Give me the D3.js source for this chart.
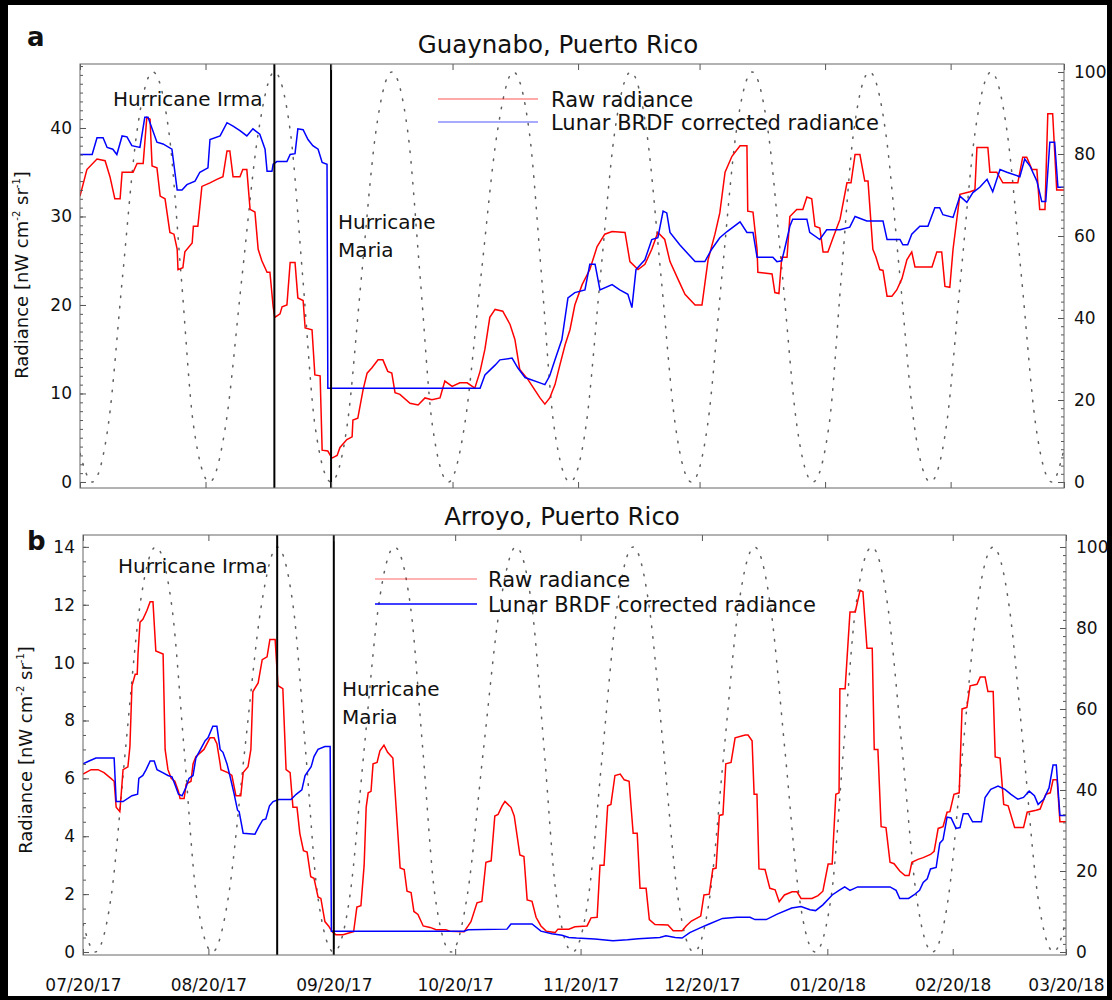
<!DOCTYPE html>
<html>
<head>
<meta charset="utf-8">
<script src="https://cdn.jsdelivr.net/npm/d3@7"></script>
<style>
body { margin: 0; background: #000; }
text { font-family: "DejaVu Sans", sans-serif; fill: #111; }
</style>
</head>
<body>
<svg id="fig" width="1112" height="1000"></svg>
<script>
// days are counted from 07/20/17
var titles = ["Guaynabo, Puerto Rico", "Arroyo, Puerto Rico"];
var seriesNames = ["Raw radiance", "Lunar BRDF corrected radiance"];
var eventNames = ["Irma", "Maria"];
var eventDays = [48, 62];
var tickDays = [0, 31, 62, 92, 123, 153, 184, 215, 243];
var tickLabels = ["07/20/17", "08/20/17", "09/20/17", "10/20/17", "11/20/17", "12/20/17", "01/20/18", "02/20/18", "03/20/18"];
var ticksLeftA = [0, 10, 20, 30, 40];
var ticksLeftB = [0, 2, 4, 6, 8, 10, 12, 14];
var ticksRight = [0, 20, 40, 60, 80, 100];

// moon illumination (%)
var moon = [[0,7],[3,0],[7,14],[10.5,50],[14,85],[18,100],[22,85],[25,50],[28,14],[32,0],[36,14],[40,50],[44,85],[48,100],
  [52,85],[55,50],[58,14],[62,0],[66,14],[69.5,50],[73,85],[77,100],[81,85],[84,50],[87,14],[91,0],[95,14],[99,50],[103,85],
  [107,100],[111,85],[114,50],[117,14],[121,0],[125,14],[128.5,50],[132,85],[136,100],[140,85],[143.5,50],[147,14],[151,0],
  [155,14],[158.5,50],[162,85],[166,100],[170,85],[173.5,50],[177,14],[181,0],[185,14],[188,50],[191,85],[195,100],[199,85],
  [202.5,50],[206,14],[210,0],[214,14],[217.5,50],[221,85],[225,100],[229,85],[232.5,50],[236,14],[240,0],[243,8]];

// Guaynabo raw radiance
var guaynaboRaw = [[0,32.3],[1.7,35.3],[4.2,36.5],[6.2,36.3],[7.4,34.5],[8.6,32],[9.9,32],[10.4,35],[13.1,35],[14.1,36],
  [15.6,36],[16.5,41.2],[17.3,41],[17.8,35.7],[19,35.5],[19.8,32.3],[21,32],[22.2,28.2],[23.2,28],[24,26.3],[24.2,24],
  [25.4,24.2],[25.9,26],[27.7,27],[28,28.9],[29.1,28.9],[30.1,33.4],[32.1,33.8],[33.8,34.2],[35.3,34.5],[36.3,37.4],[37,37.4],
  [37.8,34.5],[39.5,34.5],[40.2,35.3],[41.2,35.3],[42,30.8],[43.2,30.5],[44,26.3],[44.9,25],[46.2,23.7],[46.9,23.7],[47.7,19.8],
  [48.1,18.6],[49.4,19],[49.9,19.8],[51.1,20],[51.9,24.8],[53.1,24.8],[53.8,20.8],[55.1,20.5],[55.6,17.4],[57.3,17.2],[58,12.1],
  [59.3,12],[59.8,3.6],[61.2,3.5],[62.2,2.7],[63.5,3],[64.2,3.9],[65.9,4.8],[67.2,5.1],[67.4,7],[68.6,7.2],[69.9,10.4],
  [70.9,12.3],[72.1,12.9],[73.6,13.8],[74.8,13.8],[76,12.5],[77,12.3],[77.8,10.1],[79,9.9],[81.5,8.9],[83.5,8.7],[85.2,9.5],
  [86.9,9.3],[88.9,9.5],[90.1,11.4],[91.9,10.8],[93.8,11.2],[95.6,11.2],[97.5,10.6],[98.8,12.5],[100,15],[101.2,18.6],
  [102.5,19.5],[104.4,19.3],[106.2,17.8],[107.4,16.1],[108.6,12.7],[110.6,11.6],[112.3,10.4],[113.6,9.5],[114.8,8.8],
  [116,9.5],[117.3,11],[118.5,13.2],[119.8,15.5],[121,17.2],[122.2,20],[124,22.3],[125.9,24],[127.7,26.6],[129.6,28],
  [131.4,28.3],[134.6,28.2],[135.8,24.9],[137.8,24],[139.5,24.6],[141.2,26.3],[142.7,28.2],[144.4,27.4],[145.7,24.9],
  [147.7,22.9],[149.4,21.2],[151.9,20],[153.6,20],[155.1,25.1],[156.8,28],[158,30.4],[159.3,35],[161,36.8],[163,38],
  [164.7,38],[164.9,30.6],[166.2,30.5],[167.2,26.3],[167.4,23.7],[170.9,23.5],[171.6,21.4],[172.6,21.3],[173.3,25.4],
  [174.6,25.4],[175.3,30],[177,30.8],[178.5,30.8],[179.5,32.2],[180.7,32],[181.5,28.9],[182.7,28.7],[183.5,26],[184.7,26],
  [185.9,27.5],[187.7,29.7],[189.4,33.8],[190.4,33.8],[191.4,37],[192.6,37],[193.8,34],[194.6,34],[195.8,26.3],[196.5,25.5],
  [197.5,24],[198.3,23.9],[199.3,21],[200.5,21],[201.7,21.7],[203,23],[204.2,25.1],[205.4,26],[206.2,24.3],[210.4,24.3],
  [211.6,26],[212.8,26],[213.6,22.1],[214.8,22],[215.6,26.3],[217.3,32.5],[219.8,32.8],[221,33],[221.5,37.8],[224.2,37.8],
  [224.7,35],[226.4,35],[227.9,33.8],[231.6,33.8],[232.8,36.7],[233.8,36.7],[235.1,35.3],[236.3,35.3],[237,30.8],[238.3,30.8],
  [239,41.6],[240.2,41.6],[241.2,33],[243,33]];

// Guaynabo lunar BRDF corrected radiance
var guaynaboCorr = [[0,37],[3,37],[4.2,38.9],[5.7,38.9],[6.7,37.8],[8.1,37.6],[9.1,37],[10.4,39.1],[11.6,39],[12.8,38],
  [14.8,37.8],[16,41.2],[16.8,41.2],[19,38.4],[20.5,38.2],[22.7,37.6],[24,33],[25.2,33],[26.4,33.6],[28.4,34],[29.6,35],
  [31.6,35.5],[32.1,38.7],[34.6,39.1],[36.3,40.6],[37.8,40.2],[39.5,39.7],[41.2,39.1],[42.7,39.9],[44.4,39.3],[45.7,37.6],
  [46.2,35.1],[47.4,35.1],[47.7,35.9],[48.6,36.2],[51.1,36.2],[51.9,37],[53.1,37.1],[53.8,39.9],[55.1,39.8],[56.3,38.7],
  [57.5,38],[58.8,37.6],[59.8,36.1],[61,35.9],[61.2,10.6],[98.8,10.6],[100,12.1],[102.5,13.2],[103.7,13.8],[106.7,14],
  [108.1,12.9],[109.9,11.8],[113.6,11.2],[114.8,11],[116,12],[117.3,13.8],[119,16.1],[120.5,20.8],[122.2,21.4],[124.7,21.7],
  [125.9,24.6],[127.2,24.6],[128.4,21.7],[131.4,22.3],[133.3,21.7],[135.3,21.2],[136.3,19.7],[137.3,24],[139.5,25.1],
  [141.2,27.4],[142.7,27.6],[144,30.6],[144.9,30.4],[145.7,28.2],[148.1,26.8],[151.9,24.9],[154.3,24.9],[156,26.3],
  [158,27.6],[159.8,28.3],[163,29.4],[164.7,28.2],[166.2,28.2],[167.2,25.4],[171.1,25.4],[172.1,24.9],[173.3,25],[174,26.3],
  [175.3,28.9],[176,29.7],[179.5,29.7],[180.2,28.2],[182.7,27.4],[184.4,28.5],[187.7,28.5],[190.1,28.8],[191.4,30],
  [194.3,29.5],[198.3,29.5],[199.3,27.4],[202.5,27.4],[203.2,26.8],[204.4,26.8],[205.4,28],[207.4,28.9],[209.4,28.9],
  [211.1,31],[212.3,31],[213.1,30.2],[215.6,29.9],[217.3,32.3],[219,31.6],[220.5,32.7],[222.2,33.3],[224,34.2],[225.4,32.8],
  [227.2,35.3],[228.9,35],[232.1,34.5],[233.3,36.5],[234.6,35.7],[236.3,34],[237.5,31.7],[238.5,31.7],[239.5,38.4],
  [240.7,38.4],[241.5,33.3],[243,33.3]];

// Arroyo raw radiance
var arroyoRaw = [[0,6.15],[2,6.3],[3.7,6.3],[5.2,6.2],[6.9,6],[7.7,5.9],[8.2,5],[9.1,4.85],[9.5,5.55],[9.9,6.3],[11.1,6.4],
  [11.6,7.1],[12.1,9.2],[12.9,9.6],[13.4,9.6],[13.6,10.3],[14.1,11.4],[14.8,11.5],[15.8,11.8],[16.6,12.1],[17.3,12.1],
  [18,10.4],[19.8,10.3],[20.3,7],[21,6.3],[21.8,6],[22.7,5.9],[23.6,5.55],[24,5.3],[25,5.3],[25.5,5.8],[26.7,5.9],[27.2,6.5],
  [27.9,6.75],[29.9,7],[31.4,7.4],[32.4,7.4],[33.1,7.2],[33.9,6.5],[34.1,6.3],[35.8,6.2],[36.8,6.1],[37.8,5.4],[39,5.4],
  [39.6,6.2],[40.8,6.4],[41.5,7],[42,9],[43.3,9.3],[44.3,10.1],[45.5,10.2],[46.2,10.8],[47.5,10.8],[48.2,9.2],[49.4,9.1],
  [50.2,6.3],[51.2,6.2],[51.9,5],[52.9,5],[53.6,4.1],[54.5,3.5],[55.4,3.45],[56.3,2.6],[57.1,2.55],[58.1,1.9],[58.8,1.85],
  [59.8,1.05],[60.7,0.9],[61.6,0.7],[62.5,0.6],[64.3,0.6],[65.5,0.65],[66.9,0.7],[67.7,1.55],[68.7,1.6],[69.5,3],[70,5],
  [70.5,5.5],[71.2,5.55],[71.7,6.5],[72.7,6.55],[73.4,6.95],[74.4,7.15],[75.3,6.9],[76.6,6.7],[77.4,5],[78.4,2.9],[79.4,2.85],
  [80.1,2.1],[81.1,2.05],[81.8,1.4],[82.8,1.3],[84.1,0.9],[85.8,0.85],[87.3,0.77],[89.7,0.77],[90.7,0.72],[94.2,0.7],
  [95.2,0.9],[95.9,1.05],[97.4,1.7],[98.6,1.75],[99.6,3.1],[100.9,3.15],[101.8,4.7],[102.6,4.75],[103.6,5.05],[104.3,5.2],
  [105.8,5],[106.6,4.7],[108,3.35],[109,3.3],[109.8,1.8],[111,1.75],[112,1.2],[113.2,0.9],[114.5,0.72],[116.7,0.67],
  [117.4,0.79],[120.1,0.79],[121.6,0.87],[124.6,0.9],[125.6,1.18],[127.1,1.2],[127.8,3],[128.8,3],[129.7,5.05],[130.5,5.1],
  [131.5,6.1],[132.8,6.15],[133.8,5.95],[135,5.9],[136,4.1],[137,4.1],[137.7,2.2],[139.2,2.2],[140,1.12],[141.4,0.95],
  [144.6,0.93],[145.9,0.73],[148.1,0.73],[149.1,0.9],[150.4,1.07],[152.7,1.24],[153.5,1.97],[154.8,2],[155.7,2.87],
  [156.5,2.9],[157.3,4.72],[158.2,4.75],[158.9,6.5],[160.2,6.55],[161.2,7.4],[163.7,7.5],[164.4,7.5],[165.4,7.3],
  [165.9,5.45],[166.6,5.45],[167.1,2.87],[168.6,2.85],[169.8,2.2],[171.1,2.15],[172.1,1.74],[173.4,1.97],[175.3,2.08],
  [176.5,2.08],[177.5,1.85],[180.2,1.85],[181.7,1.95],[182.9,2.1],[184.2,3.04],[185.2,3.04],[186.1,5.45],[186.9,5.5],
  [187.1,9.1],[188.4,9.1],[189.6,11.75],[190.9,11.75],[192.1,12.5],[192.8,12.45],[193.8,10.5],[195.1,10.5],[195.6,7],
  [196.5,7],[197.3,4.33],[198.5,4.3],[199.5,3.1],[200.5,3.05],[201.9,2.8],[203.2,2.64],[204.2,2.64],[204.9,3.1],[206.4,3.2],
  [207.7,3.26],[209.5,3.37],[210.4,3.48],[211.4,4.27],[212.6,4.33],[213.6,4.83],[214.3,4.85],[215.3,5.45],[216.6,5.5],
  [217.3,8.4],[218.5,8.45],[219.3,9.2],[221,9.25],[221.8,9.5],[223,9.5],[223.7,9],[225,9],[225.5,6.74],[226.7,6.7],
  [227.6,5.1],[228.7,5.05],[230.3,4.3],[232.5,4.3],[233.4,4.83],[235.6,4.9],[236.6,4.94],[238,5.45],[239.1,5.5],
  [239.8,5.95],[240.8,5.95],[241.5,4.5],[243,4.5]];

// Arroyo lunar BRDF corrected radiance
var arroyoCorr = [[0,6.5],[1.5,6.6],[3.2,6.7],[7.7,6.7],[8.2,5.2],[9.9,5.2],[12.1,5.4],[13.5,5.45],[13.8,6],[14.8,6.1],
  [15.6,6.3],[16.6,6.6],[17.6,6.6],[18.3,6.3],[19.7,6.2],[21,6.1],[22,6.05],[22.7,5.8],[23.6,5.45],[24.5,5.4],[25.5,5.7],
  [26.2,6],[27.2,6.1],[27.9,6.7],[30.2,7.3],[30.9,7.4],[32.1,7.8],[33.1,7.8],[33.9,7],[34.6,6.9],[35.6,6.5],[36.3,6.1],
  [37.3,5.5],[38.2,4.9],[38.6,4.85],[39.6,4.1],[42.5,4.07],[43.5,4.34],[44.4,4.56],[45.2,4.6],[46.1,5.05],[47,5.2],
  [48.4,5.27],[51.4,5.27],[52.7,5.45],[54.1,5.6],[54.9,6.1],[56.4,6.4],[57.1,6.75],[58.1,7],[59.8,7.1],[61.1,7.1],
  [61.4,0.72],[94.2,0.72],[95.2,0.77],[104.8,0.79],[105.8,0.97],[111,0.97],[113.2,0.72],[115.9,0.63],[118.4,0.58],
  [120.1,0.5],[122,0.48],[126.5,0.45],[131,0.39],[134.6,0.42],[137.3,0.46],[142.6,0.5],[144.1,0.56],[146.4,0.5],
  [148.1,0.48],[150,0.67],[152.7,0.84],[154.5,0.95],[158.1,1.16],[161.7,1.2],[164.9,1.2],[166.1,1.12],[168.9,1.12],
  [171.6,1.31],[175.2,1.52],[177.5,1.57],[179.7,1.46],[181.1,1.43],[182.9,1.63],[185.2,1.97],[186.9,2.13],[188.3,2.25],
  [189.6,2.13],[191.5,2.25],[199.5,2.25],[201,2.13],[201.9,1.85],[204.1,1.85],[205.4,1.97],[206.8,2.13],[207.7,2.4],
  [208.7,2.53],[209.5,2.87],[210.9,2.92],[211.8,3.76],[212.6,3.88],[213.6,4.66],[214.6,4.63],[215.8,4.27],[216.8,4.3],
  [217.6,4.78],[218.8,4.78],[219.9,4.5],[222.1,4.5],[223,5.34],[224.4,5.62],[226.2,5.73],[227.9,5.62],[229.4,5.45],
  [231.1,5.28],[232.5,5.34],[233.9,5.56],[235.2,5.4],[236.1,5.1],[237.5,5.28],[238.8,5.67],[239.8,6.46],[240.6,6.46],
  [241.5,4.72],[243,4.72]];

var start = Date.UTC(2017, 6, 20);
function toDate(d) { return new Date(start + d * 864e5); }

var panels = [
  {letter: "a", title: titles[0], raw: guaynaboRaw, corr: guaynaboCorr, leftTicks: ticksLeftA, minorStep: 1,
   x0: 80, x1: 1064, y0: 64, y1: 488, yL: [-0.68, 47.23], yR: [-1.46, 101.95],
   letterPos: [27, 46], titlePos: [558, 53], irmaPos: [113, 106], mariaPos: [338, 229],
   legX: [438, 538, 551], legY: [99, 122], legOpacity: [0.45, 0.45], yLabel: [28, 275], xLabels: false},
  {letter: "b", title: titles[1], raw: arroyoRaw, corr: arroyoCorr, leftTicks: ticksLeftB, minorStep: 0.5,
   x0: 83, x1: 1066, y0: 535, y1: 955, yL: [-0.104, 14.41], yR: [-0.74, 102.96],
   letterPos: [27, 550], titlePos: [562, 525], irmaPos: [118, 573], mariaPos: [342, 696],
   legX: [375, 477, 488], legY: [579, 604], legOpacity: [0.4, 1], yLabel: [32, 750], xLabels: true}
];

var svg = d3.select("#fig");
svg.append("rect").attr("width", 1112).attr("height", 1000).attr("fill", "#000");
svg.append("rect").attr("x", 8).attr("y", 5).attr("width", 1099).attr("height", 991).attr("fill", "#fff");

panels.forEach(function(p, i) {
  var x = d3.scaleUtc().domain([toDate(0), toDate(243)]).range([p.x0, p.x1]);
  var yL = d3.scaleLinear().domain(p.yL).range([p.y1, p.y0]);
  var yR = d3.scaleLinear().domain(p.yR).range([p.y1, p.y0]);
  var g = svg.append("g");

  g.append("clipPath").attr("id", "clip" + i)
    .append("rect").attr("x", p.x0).attr("y", p.y0).attr("width", p.x1 - p.x0).attr("height", p.y1 - p.y0);
  var plot = g.append("g").attr("clip-path", "url(#clip" + i + ")");

  // moon illumination, dotted
  plot.append("path")
    .datum(moon)
    .attr("fill", "none").attr("stroke", "#444").attr("stroke-opacity", 0.85).attr("stroke-width", 1.5)
    .attr("stroke-dasharray", "1.5,9").attr("stroke-linecap", "round")
    .attr("d", d3.line().curve(d3.curveMonotoneX)
      .x(function(d) { return x(toDate(d[0])); })
      .y(function(d) { return yR(d[1]); }));

  var line = d3.line()
    .x(function(d) { return x(toDate(d[0])); })
    .y(function(d) { return yL(d[1]); });
  plot.append("path").datum(p.raw)
    .attr("fill", "none").attr("stroke", "#ff0000").attr("stroke-width", 1.5).attr("d", line);
  plot.append("path").datum(p.corr)
    .attr("fill", "none").attr("stroke", "#0000ff").attr("stroke-width", 1.5).attr("d", line);

  // hurricane landfall lines
  g.selectAll(".event").data(eventDays).enter().append("line")
    .attr("x1", function(d) { return x(toDate(d)); })
    .attr("x2", function(d) { return x(toDate(d)); })
    .attr("y1", p.y0).attr("y2", p.y1)
    .attr("stroke", "#000").attr("stroke-width", 2);

  // axes, ticks pointing inward
  var dates = tickDays.map(toDate);
  function style(ax) {
    ax.attr("color", "#555").attr("font-size", 17).attr("font-family", "DejaVu Sans");
    ax.select(".domain").remove();
    ax.selectAll("text").attr("fill", "#111");
  }
  g.append("g").attr("transform", "translate(" + p.x0 + ",0)")
    .call(d3.axisLeft(yL).tickValues(d3.range(0, p.yL[1], p.minorStep)).tickSize(-3).tickFormat(""))
    .call(style);
  g.append("g").attr("transform", "translate(" + p.x1 + ",0)")
    .call(d3.axisRight(yR).tickValues(d3.range(0, 102, 2)).tickSize(-3).tickFormat(""))
    .call(style);
  g.append("g").attr("transform", "translate(" + p.x0 + ",0)")
    .call(d3.axisLeft(yL).tickValues(p.leftTicks).tickSize(-6).tickPadding(8))
    .call(style);
  g.append("g").attr("transform", "translate(" + p.x1 + ",0)")
    .call(d3.axisRight(yR).tickValues(ticksRight).tickSize(-6).tickPadding(10))
    .call(style);
  g.append("g").attr("transform", "translate(0," + p.y0 + ")")
    .call(d3.axisTop(x).tickValues(dates).tickSize(-6).tickFormat(""))
    .call(style);
  g.append("g").attr("transform", "translate(0," + p.y1 + ")")
    .call(d3.axisBottom(x).tickValues(dates).tickSize(-6).tickPadding(24)
      .tickFormat(function(d, k) { return p.xLabels ? tickLabels[k] : ""; }))
    .call(style);

  g.append("rect").attr("x", p.x0).attr("y", p.y0)
    .attr("width", p.x1 - p.x0).attr("height", p.y1 - p.y0)
    .attr("fill", "none").attr("stroke", "#666").attr("stroke-width", 1);

  // texts
  g.append("text").attr("x", p.letterPos[0]).attr("y", p.letterPos[1])
    .attr("font-size", 26).attr("font-weight", "bold").text(p.letter);
  g.append("text").attr("x", p.titlePos[0]).attr("y", p.titlePos[1])
    .attr("text-anchor", "middle").attr("font-size", 24.5).text(p.title);
  g.append("text").attr("x", p.irmaPos[0]).attr("y", p.irmaPos[1])
    .attr("font-size", 20).text("Hurricane " + eventNames[0]);
  g.append("text").attr("x", p.mariaPos[0]).attr("y", p.mariaPos[1])
    .attr("font-size", 20).text("Hurricane");
  g.append("text").attr("x", p.mariaPos[0]).attr("y", p.mariaPos[1] + 28)
    .attr("font-size", 20).text(eventNames[1]);

  var yl = g.append("text")
    .attr("transform", "translate(" + p.yLabel[0] + "," + p.yLabel[1] + ") rotate(-90)")
    .attr("text-anchor", "middle").attr("font-size", 18);
  yl.append("tspan").text("Radiance [nW cm");
  yl.append("tspan").attr("font-size", 10).attr("dy", -8).text("-2");
  yl.append("tspan").attr("dy", 8).text(" sr");
  yl.append("tspan").attr("font-size", 10).attr("dy", -8).text("-1");
  yl.append("tspan").attr("dy", 8).text("]");

  // legend
  var colors = ["#ff0000", "#0000ff"];
  seriesNames.forEach(function(name, k) {
    g.append("line").attr("x1", p.legX[0]).attr("x2", p.legX[1])
      .attr("y1", p.legY[k]).attr("y2", p.legY[k])
      .attr("stroke", colors[k]).attr("stroke-width", 1.3).attr("stroke-opacity", p.legOpacity[k]);
    g.append("text").attr("x", p.legX[2]).attr("y", p.legY[k] + 8)
      .attr("font-size", 21).text(name);
  });
});
</script>
</body>
</html>
